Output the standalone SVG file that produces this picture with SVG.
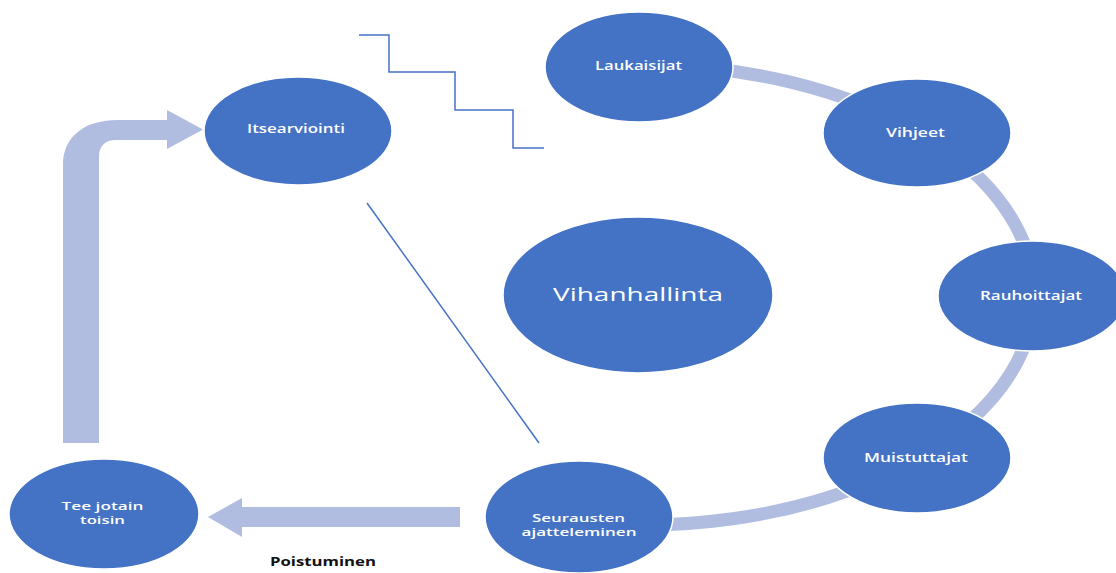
<svg xmlns="http://www.w3.org/2000/svg" width="1116" height="573" viewBox="0 0 1116 573">
<style>
.node{fill:#4472c4;stroke:#ffffff;stroke-width:1.5}
.lbl{fill:#ffffff;font-family:"Open Sans","Noto Sans",sans-serif;font-weight:600;font-size:12px;text-anchor:middle}
.two{font-size:10.5px}
.big{font-size:18px;font-weight:500}
.band{fill:none;stroke:#b0bde0;stroke-width:13}
.arrow{fill:#b0bde0}
.thin{fill:none;stroke:#4472c4;stroke-width:1.5}
.cap{fill:#111111;font-family:"Open Sans","Noto Sans",sans-serif;font-weight:700;font-size:12px}
</style>
<rect width="1116" height="573" fill="#ffffff"/>
<g id="connectors">
<path class="band" d="M 640 65 A 392 230 0 1 1 579 522"/>
<path class="arrow" d="M 63 443 L 63 165 C 63 136 85 120 118 120 L 167 120 L 167 110 L 203 129.5 L 167 149 L 167 140 L 116 140 C 105 140 99 146 99 157 L 99 443 Z"/>
<path class="arrow" d="M 460 507 L 242 507 L 242 498 L 208 517 L 242 537 L 242 527 L 460 527 Z"/>
<polyline class="thin" points="359,35 389,35 389,72 455,72 455,110 513,110 513,148 544,148"/>
<line class="thin" x1="367" y1="203" x2="539" y2="443"/>
</g>
<g id="n-vihanhallinta"><ellipse class="node" cx="638" cy="295" rx="135" ry="78"/><text class="lbl big" x="638" y="301" textLength="170" lengthAdjust="spacingAndGlyphs">Vihanhallinta</text></g>
<g id="n-laukaisijat"><ellipse class="node" cx="639" cy="67" rx="94" ry="55"/><text class="lbl" x="638.5" y="70" textLength="87" lengthAdjust="spacingAndGlyphs">Laukaisijat</text></g>
<g id="n-vihjeet"><ellipse class="node" cx="917" cy="133" rx="94" ry="54"/><text class="lbl" x="915.5" y="137" textLength="59" lengthAdjust="spacingAndGlyphs">Vihjeet</text></g>
<g id="n-rauhoittajat"><ellipse class="node" cx="1032" cy="296" rx="94" ry="55"/><text class="lbl" x="1031" y="300" textLength="102" lengthAdjust="spacingAndGlyphs">Rauhoittajat</text></g>
<g id="n-muistuttajat"><ellipse class="node" cx="917" cy="458" rx="94" ry="55"/><text class="lbl" x="916" y="462" textLength="104" lengthAdjust="spacingAndGlyphs">Muistuttajat</text></g>
<g id="n-seurausten"><ellipse class="node" cx="579" cy="517" rx="94" ry="56"/><text class="lbl two" x="578.5" y="521.5" textLength="93" lengthAdjust="spacingAndGlyphs">Seurausten</text><text class="lbl two" x="579" y="535.5" textLength="115" lengthAdjust="spacingAndGlyphs">ajatteleminen</text></g>
<g id="n-tee"><ellipse class="node" cx="104" cy="514" rx="95" ry="55"/><text class="lbl two" x="102.5" y="509.5" textLength="82" lengthAdjust="spacingAndGlyphs">Tee jotain</text><text class="lbl two" x="102.5" y="523.5" textLength="45" lengthAdjust="spacingAndGlyphs">toisin</text></g>
<g id="n-itsearviointi"><ellipse class="node" cx="298" cy="131" rx="94" ry="54"/><text class="lbl" x="296" y="133" textLength="98" lengthAdjust="spacingAndGlyphs">Itsearviointi</text></g>
<text class="cap" x="270" y="566" textLength="106" lengthAdjust="spacingAndGlyphs">Poistuminen</text>
</svg>
